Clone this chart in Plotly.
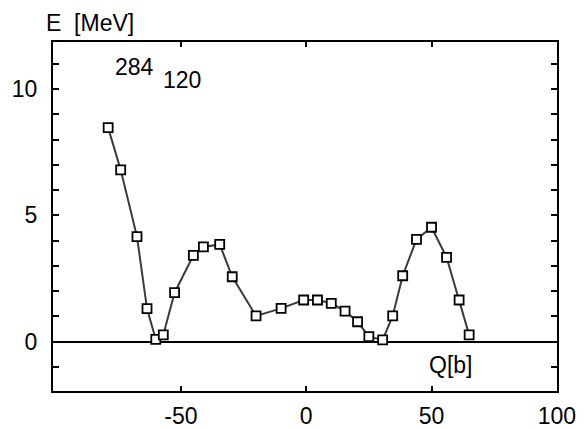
import plotly.graph_objects as go

# Deformation energy curve E(Q) for the nucleus 284/120
q_barn = [-79, -74, -67.5, -63.5, -60, -57, -52.5, -45, -41, -34.5, -29.5, -20,
          -10, -1, 4.5, 10, 15.5, 20.5, 25, 30.5, 34.5, 38.5, 44, 50, 56, 61, 65]
e_mev = [8.47, 6.80, 4.16, 1.31, 0.09, 0.27, 1.94, 3.42, 3.75, 3.85, 2.57, 1.02,
         1.32, 1.65, 1.65, 1.52, 1.21, 0.79, 0.20, 0.07, 1.02, 2.61, 4.05, 4.53,
         3.34, 1.65, 0.27]

x_ticks = [-50, 0, 50, 100]
y_ticks = [0, 5, 10]

FONT = "Liberation Sans, Arial, sans-serif"
FS = 23

fig = go.Figure()
fig.add_trace(go.Scatter(
    x=q_barn, y=e_mev, mode="lines+markers",
    line=dict(color="#3a3a3a", width=2),
    marker=dict(symbol="square", size=9, color="white",
                line=dict(color="black", width=1.8)),
    showlegend=False,
))

fig.update_layout(
    width=584, height=429,
    margin=dict(l=53, r=27, t=42, b=38),
    paper_bgcolor="white", plot_bgcolor="white",
    font=dict(family=FONT, size=FS, color="black"),
    xaxis=dict(
        range=[-101, 100.05], tickvals=x_ticks, ticktext=[str(v) for v in x_ticks],
        ticks="inside", ticklen=5, tickwidth=1.5, tickcolor="black",
        showline=True, linecolor="black", linewidth=2, mirror="ticks",
        showgrid=False, zeroline=False, ticklabelstandoff=3, automargin=False,
    ),
    yaxis=dict(
        range=[-1.95, 11.86], tickvals=y_ticks, ticktext=[str(v) for v in y_ticks],
        ticks="inside", ticklen=6, tickwidth=1.5, tickcolor="black",
        minor=dict(dtick=1, tick0=0, ticks="inside", ticklen=6, tickwidth=1.5,
                   tickcolor="black", showgrid=False),
        showline=True, linecolor="black", linewidth=2, mirror="ticks",
        showgrid=False, zeroline=True, zerolinecolor="black", zerolinewidth=2,
        ticklabelstandoff=9, automargin=False,
    ),
    annotations=[
        dict(text="E  [MeV]", xref="paper", yref="paper", x=-0.018, y=1.055,
             xanchor="left", yanchor="middle", showarrow=False),
        dict(text="284", xref="x", yref="y", x=-77, y=10.87,
             xanchor="left", yanchor="middle", showarrow=False),
        dict(text="120", xref="x", yref="y", x=-58, y=10.35,
             xanchor="left", yanchor="middle", showarrow=False),
        dict(text="Q[b]", xref="x", yref="y", x=48, y=-0.92,
             xanchor="left", yanchor="middle", showarrow=False),
    ],
)

fig.write_html("out.html")
